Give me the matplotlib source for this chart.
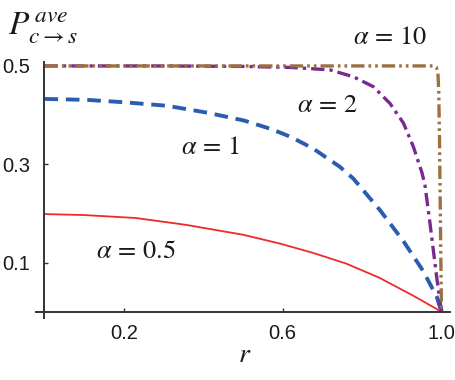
import matplotlib
matplotlib.use("Agg")
import matplotlib.pyplot as plt

plt.rcParams['mathtext.fontset'] = 'stix'

# data
r_05 = [0, 0.1, 0.23, 0.357, 0.5, 0.593, 0.677, 0.761, 0.845, 0.929, 0.988, 1.0]
p_05 = [0.199, 0.197, 0.191, 0.177, 0.157, 0.139, 0.120, 0.098, 0.069, 0.033, 0.006, 0]

r_1 = [0, 0.108, 0.204, 0.309, 0.41, 0.503, 0.57, 0.62, 0.677, 0.744, 0.778,
       0.845, 0.904, 0.954, 0.988, 1.0]
p_1 = [0.433, 0.431, 0.426, 0.419, 0.405, 0.389, 0.372, 0.356, 0.332, 0.295, 0.271,
       0.207, 0.144, 0.083, 0.031, 0]

r_2 = [0, 0.3, 0.5, 0.62, 0.719, 0.778, 0.828, 0.87, 0.904, 0.929, 0.95, 0.958, 0.971,
       0.988, 1.0]
p_2 = [0.5, 0.5, 0.499, 0.497, 0.492, 0.478, 0.458, 0.424, 0.384, 0.336, 0.285, 0.26, 0.18,
       0.07, 0]

r_10 = [0, 0.98, 0.987, 0.991, 0.993, 0.995, 0.997, 1.0]
p_10 = [0.5, 0.5, 0.497, 0.485, 0.45, 0.35, 0.2, 0]

xticks = [0.2, 0.6, 1.0]
xticklabels = ['0.2', '0.6', '1.0']
yticks = [0.1, 0.3, 0.5]
yticklabels = ['0.1', '0.3', '0.5']

fig = plt.figure(figsize=(4.56, 3.80), dpi=100)
ax = fig.add_axes([36/456, 1-318/380, (450-36)/456, (318-62)/380])
ax.set_xlim(-0.0214, 1.0214)
ax.set_ylim(-0.0122, 0.508)

ax.plot(r_05, p_05, color='#ee2a2a', lw=1.3, clip_on=False)
ax.plot(r_1, p_1, color='#2a5cb0', lw=2.8, dashes=(3.5, 2), clip_on=False)
ax.plot(r_2, p_2, color='#7a2a8e', lw=2.4, dashes=(4, 1.5, 1, 1.5), clip_on=False)
ax.plot(r_10, p_10, color='#9c7040', lw=2.4, dashes=(4, 1.2, 0.8, 1.2, 0.8, 1.2), clip_on=False)

for s in ['top', 'right']:
    ax.spines[s].set_visible(False)
ax.spines['left'].set_position(('data', 0))
ax.spines['bottom'].set_position(('data', 0))
for s in ['left', 'bottom']:
    ax.spines[s].set_color('#333333')
    ax.spines[s].set_linewidth(1.4)

ax.set_xticks(xticks)
ax.set_xticklabels(xticklabels)
ax.set_yticks(yticks)
ax.set_yticklabels(yticklabels)
ax.tick_params(direction='in', length=3, width=1, color='#333333',
               labelsize=14.5, labelcolor='#1a1a1a')
ax.tick_params(axis='y', pad=10)
ax.tick_params(axis='x', pad=9)
for lab in ax.get_xticklabels() + ax.get_yticklabels():
    lab.set_family('Liberation Sans')

tkw = dict(fontsize=19, color='#1a1a1a', ha='center', va='center')
ax.text(0.87, 0.559, r'$\alpha\,=\,10$', clip_on=False, **tkw)
ax.text(0.714, 0.42, r'$\alpha\,=\,2$', **tkw)
ax.text(0.417, 0.335, r'$\alpha\,=\,1$', **tkw)
ax.text(0.23, 0.124, r'$\alpha\,=\,0.5$', **tkw)

fig.text(245/456, 1-354/380, r'$r$', fontsize=20, ha='center', va='center', color='#1a1a1a')
fig.text(8/456, 1-28/380, r'$P_{c\rightarrow s}^{\,ave}$', fontsize=24, ha='left', va='center', color='#1a1a1a')

fig.savefig('out.png', dpi=100)
